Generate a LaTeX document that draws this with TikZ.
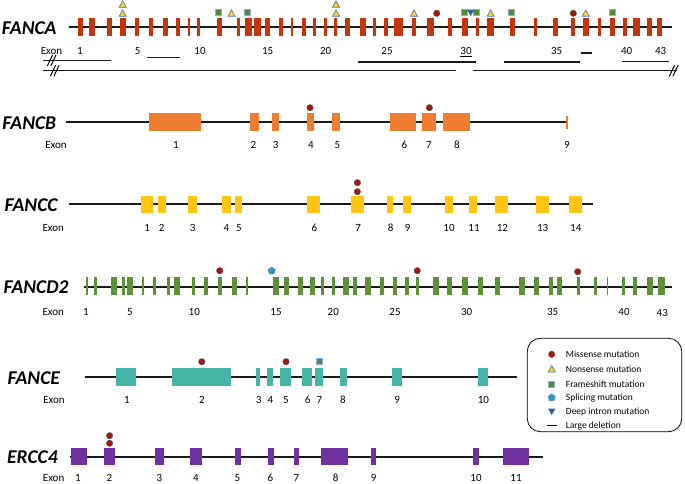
\documentclass[tikz,border=0pt]{standalone}
\usepackage{fontspec}
\setmainfont{Carlito}
\usetikzlibrary{shapes.geometric}
\definecolor{cA}{HTML}{C3360B}
\definecolor{cB}{HTML}{ED7D31}
\definecolor{cC}{HTML}{FFC511}
\definecolor{cD}{HTML}{5E9139}
\definecolor{cE}{HTML}{45B5A6}
\definecolor{cF}{HTML}{7030A0}
\definecolor{missc}{HTML}{A8170C}
\definecolor{nonc}{HTML}{FFD21F}
\definecolor{mkedge}{HTML}{4472C4}
\definecolor{fsc}{HTML}{4F8A3A}
\definecolor{fsedge}{HTML}{8FAADC}
\definecolor{splc}{HTML}{2B9CB3}
\definecolor{deepc}{HTML}{2F5BA8}
\tikzset{
  geneline/.style={line width=2pt,black!90},
  delline/.style={line width=1.2pt,black!90},
  gname/.style={font=\fontsize{19.5}{22}\selectfont\bfseries\itshape,anchor=base west,inner sep=0pt},
  exlbl/.style={font=\fontsize{11}{13}\selectfont,anchor=base,inner sep=0pt},
  leglbl/.style={font=\fontsize{9.5}{11}\selectfont,anchor=base west,inner sep=0pt},
  missense/.pic={\fill[missc,draw=black!70,line width=0.4pt] (0,0) circle (3.2);},
  nonsense/.pic={\filldraw[fill=nonc,draw=mkedge,line width=0.6pt] (-3.6,3) -- (3.6,3) -- (0,-3.4) -- cycle;},
  frameshift/.pic={\filldraw[fill=fsc,draw=fsedge,line width=0.6pt] (-3,-3) rectangle (3,3);},
  splicing/.pic={\node[regular polygon,regular polygon sides=5,minimum size=7.5pt,inner sep=0pt,fill=splc,draw=mkedge,line width=0.5pt] {};},
  deepintron/.pic={\fill[deepc] (-3.6,-3) -- (3.6,-3) -- (0,3.4) -- cycle;},
}
\begin{document}
\begin{tikzpicture}[x=1pt,y=-1pt]
\useasboundingbox (0,0) rectangle (685,484);

% ---------------- FANCA ----------------
\node[gname] (nA) at (1.7,35) {FANCA};
\draw[geneline] (69,27.3) -- (671.7,27.3);
\foreach \a/\b in {78/83,89/95,107/112,120/126,135/139,149/153,163/168,176/180,188/189.6,197/200,217/222,237/240,245/252,254/261,265/270,279/283,291/293,302/306,313/316,324/327,334/337,345/350,360/366,373/376,384/388,394/403,412/416,427/434,448/452,462/468,476/479,487/494,510/515,534/537,553/558,571/575,583/589,598/601,610/615,623/627,633/640,647/652,657/662}
  \fill[cA] (\a,18.3) rectangle (\b,36);
\node[exlbl] (eA) at (51.5,54.7) {Exon};
\foreach \i/\x in {1/80,5/137.7,10/200,15/267.7,20/325.7,25/387,30/466,35/556.7,40/626.7,43/660.7}
  \node[exlbl] (lA-\i) at (\x,54.7) {\i};
\draw[line width=0.9pt] (460,56.6) -- (471.7,56.6);
% deletions
\draw[delline] (43.3,60.3) -- (111,60.3);
\draw[delline] (146.7,57.3) -- (180,57.3);
\draw[delline] (358.3,62) -- (476,62);
\draw[delline] (504.3,62) -- (580,62);
\draw[delline] (580.7,53) -- (592.3,53);
\draw[delline] (621.7,61.3) -- (669.3,61.3);
\draw[delline] (43.3,70.7) -- (455.7,70.7);
\draw[delline] (472.7,70.7) -- (676.7,70.7);
\foreach \cx/\cy in {50/60.3,53.5/60.3,53/70.7,56.5/70.7,672/70.7,675.5/70.7}
  \draw[line width=1pt] (\cx-2.6,\cy+5.5) -- (\cx+2.6,\cy-5.5);
% mutations
\foreach \x/\y in {122.7/4.3,122.7/13.3,231.5/13.3,336/4.3,336/13.3,414/13.3,490.7/13.3,585.7/13.3}
  \pic at (\x,\y) {nonsense};
\foreach \x in {218,247.3,464.3,476.7,511.7,612.3}
  \pic at (\x,12.7) {frameshift};
\pic at (470.7,12.7) {deepintron};
\foreach \x in {436.7,573.3}
  \pic at (\x,13.3) {missense};

% ---------------- FANCB ----------------
\node[gname] (nB) at (2.2,129) {FANCB};
\draw[geneline] (66.4,122.3) -- (568,122.3);
\foreach \a/\b in {148.5/201,250/259,272/279,306.7/314,331.6/339.5,389.7/416.3,422/435.6,443.4/470}
  \fill[cB] (\a,113.3) rectangle (\b,130.7);
\fill[cB] (565.9,116) rectangle (567.6,129);
\node[exlbl] (eB) at (56,149) {Exon};
\foreach \i/\x in {1/176,2/253.4,3/275.7,4/311,5/337.3,6/404.5,7/429,8/457,9/567}
  \node[exlbl] (lB-\i) at (\x,149) {\i};
\foreach \x in {310,429.4}
  \pic at (\x,107.7) {missense};

% ---------------- FANCC ----------------
\node[gname] (nC) at (4.4,211) {FANCC};
\draw[geneline] (69,204.3) -- (593.3,204.3);
\foreach \a/\b in {140.7/153,158/165.6,188.3/196.6,222/231,235/241.6,307/319.8,351.2/364.3,387/393.2,402.8/411,445.2/453,469.2/476.6,494.5/507.6,535.6/548.7,568.8/581.5}
  \fill[cC] (\a,195.7) rectangle (\b,213.3);
\node[exlbl] (eC) at (53.3,231.5) {Exon};
\foreach \i/\x in {1/147.2,2/161.6,3/192.7,4/226.3,5/239,6/314.5,7/358.2,8/390.6,9/407.6,10/449,11/474,12/502.4,13/542.6,14/575.8}
  \node[exlbl] (lC-\i) at (\x,231.5) {\i};
\foreach \y in {182.7,191.7}
  \pic at (357.4,\y) {missense};

% ---------------- FANCD2 ----------------
\node[gname] (nD) at (3.3,293.3) {FANCD2};
\draw[geneline] (84.3,286.7) -- (671.7,286.7);
\foreach \a/\b in {86/87.7,94.3/97.3,111/116.7,122/125,127.3/132.7,141.7/144.3,153/155.7,167/170,174.3/180,191.7/194.7,204/208,218.3/221.7,232.3/237,246.3/247.7,273/278.7,284/288.7,297.7/303.3,310.3/314.7,321/324,332.3/335,343.3/349,353.3/356.7,365.3/371,380/384,392.7/397.3,405/409,416/419.3,432.7/439,447.3/452.3,462.3/468.3,478.3/483.3,494.7/500,519.3/525,534/538.7,549/552.7,556.7/562.3,576.7/580,594/597.3,606.7/608.3,622/625,633.3/636.7,647.3/653.3,658.3/665}
  \fill[cD] (\a,277.3) rectangle (\b,295);
\node[exlbl] (eD) at (53.3,315.7) {Exon};
\foreach \i/\x in {1/86,5/130,10/194.3,15/276,20/333.3,25/395,30/466.7,35/552.7,40/624}
  \node[exlbl] (lD-\i) at (\x,315.7) {\i};
\node[exlbl] (lD-43) at (662.3,316.7) {43};
\foreach \x/\y in {219.7/270.7,417.3/270.7,577.7/271.7}
  \pic at (\x,\y) {missense};
\pic at (271.7,270.9) {splicing};

% ---------------- FANCE ----------------
\node[gname] (nE) at (7.4,384) {FANCE};
\draw[geneline] (84.5,377.3) -- (516.6,377.3);
\foreach \a/\b in {116/136.2,171.7/231,256/260,267/272.8,280/291,301.5/311.7,315/322.5,339.8/346.5,392/402.3,478.4/487.8}
  \fill[cE] (\a,368.3) rectangle (\b,386);
\node[exlbl] (eE) at (54,403.3) {Exon};
\foreach \i/\x in {1/126.8,2/201.8,3/258.6,4/270.5,5/286,6/307.6,7/319.5,8/343,9/397.2,10/483.4}
  \node[exlbl] (lE-\i) at (\x,403.3) {\i};
\foreach \x in {201.8,286}
  \pic at (\x,361.7) {missense};
\pic at (319.5,361.3) {frameshift};

% ---------------- ERCC4 ----------------
\node[gname] (nF) at (7,463.3) {ERCC4};
\draw[geneline] (69.6,456.7) -- (542.9,456.7);
\foreach \a/\b in {71.4/86.8,103.6/115,155.4/163.6,190/202,234.6/241,267.9/273.6,294/299,320.7/347.5,371.4/376.4,473.2/479.3,502.9/529.3}
  \fill[cF] (\a,447.7) rectangle (\b,465);
\node[exlbl] (eF) at (53.6,481) {Exon};
\foreach \i/\x in {1/77.9,2/109.3,3/159.3,4/196,5/237.5,6/270.4,7/296.4,8/335.7,9/373.6,10/476,11/516}
  \node[exlbl] (lF-\i) at (\x,481) {\i};
\foreach \y in {435.7,443.3}
  \pic at (109.6,\y) {missense};

% ---------------- Legend ----------------
\draw[line width=0.8pt,rounded corners=13pt] (527.3,338.3) rectangle (681.7,431.7);
\pic at (551.7,354.3) {missense};
\pic at (551.7,369) {nonsense};
\pic at (551.7,384.3) {frameshift};
\pic at (551.7,397.7) {splicing};
\pic at (551.7,411.7) {deepintron};
\draw[line width=1.3pt] (547.3,425.7) -- (557.3,425.7);
\node[leglbl] (g1) at (565.7,357.4) {Missense mutation};
\node[leglbl] (g2) at (565.7,372.1) {Nonsense mutation};
\node[leglbl] (g3) at (565.7,387.4) {Frameshift mutation};
\node[leglbl] (g4) at (565.7,400.8) {Splicing mutation};
\node[leglbl] (g5) at (565.7,414.8) {Deep intron mutation};
\node[leglbl] (g6) at (565.7,428.8) {Large deletion};
\end{tikzpicture}
\end{document}
